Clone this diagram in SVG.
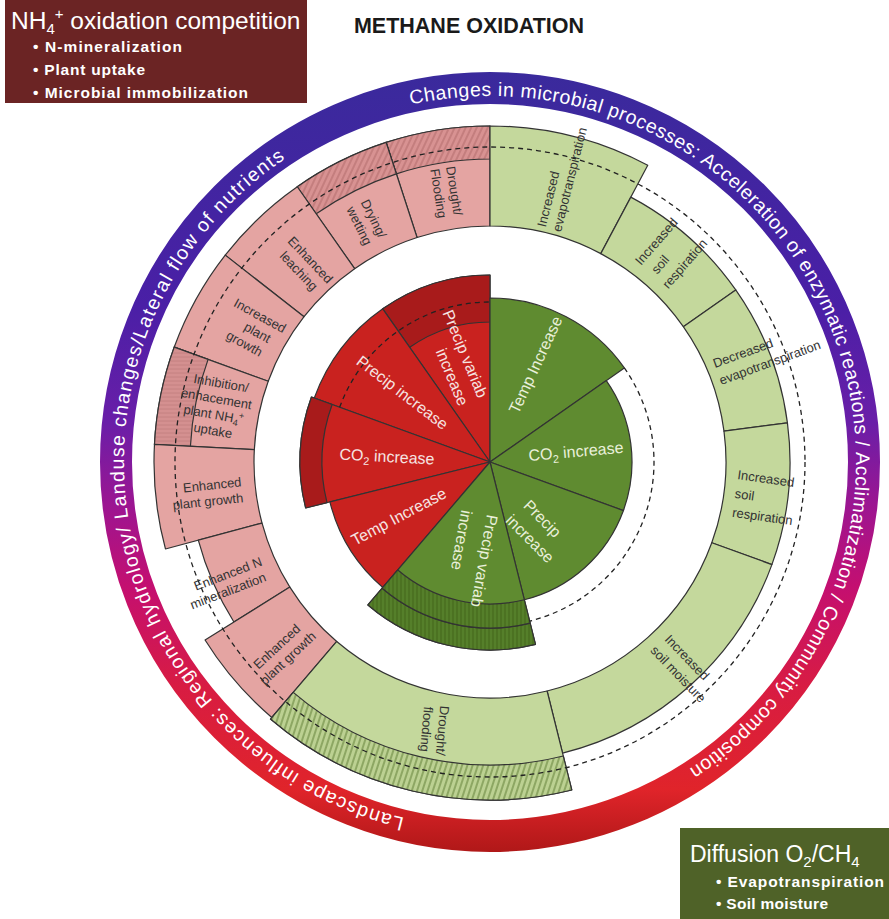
<svg xmlns="http://www.w3.org/2000/svg" width="889" height="919" viewBox="0 0 889 919">
<defs>
<linearGradient id="ringGrad" gradientUnits="userSpaceOnUse" x1="0" y1="72" x2="0" y2="852">
<stop offset="0" stop-color="#3a2a9c"/>
<stop offset="0.3" stop-color="#4a1fa6"/>
<stop offset="0.45" stop-color="#6a1ea8"/>
<stop offset="0.56" stop-color="#9e1590"/>
<stop offset="0.66" stop-color="#c40f70"/>
<stop offset="0.79" stop-color="#d81c42"/>
<stop offset="0.92" stop-color="#e0242a"/>
<stop offset="1" stop-color="#b01818"/>
</linearGradient>
<pattern id="hatchPink" width="5" height="5" patternUnits="userSpaceOnUse" patternTransform="rotate(25)">
<rect width="5" height="5" fill="#d89292"/>
<line x1="1" y1="0" x2="1" y2="5" stroke="#b06a6a" stroke-width="1"/>
</pattern>
<pattern id="hatchPinkH" width="5" height="4" patternUnits="userSpaceOnUse">
<rect width="5" height="4" fill="#d49090"/>
<line x1="0" y1="1" x2="5" y2="1" stroke="#c07c7c" stroke-width="0.8"/>
</pattern>
<pattern id="hatchGreen" width="5" height="5" patternUnits="userSpaceOnUse" patternTransform="rotate(18)">
<rect width="5" height="5" fill="#bcd192"/>
<line x1="1" y1="0" x2="1" y2="5" stroke="#5e7c34" stroke-width="1"/>
</pattern>
<pattern id="hatchOlive" width="4" height="4" patternUnits="userSpaceOnUse">
<rect width="4" height="4" fill="#557f2a"/>
<line x1="1" y1="0" x2="1" y2="4" stroke="#3f6218" stroke-width="0.9"/>
</pattern>
<path id="arcR" d="M410.78,104.67 A366,366 0 0 1 689.34,768.95"/>
<path id="arcL" d="M404.56,817.89 A366,366 0 0 1 285.34,158.57"/>
</defs>
<style>
.sec{stroke:#333;stroke-width:1.2;stroke-linejoin:round}
.pink{fill:#e4a4a2}
.lg{fill:#c4d89c}
.red{fill:#c9221f}
.dred{fill:#a81b1b}
.olive{fill:#5f8b30}
.dash{fill:none;stroke:#222;stroke-width:1.3;stroke-dasharray:5 4}
.lbl{font-family:"Liberation Sans",Arial,sans-serif;font-size:13px;fill:#333}
.pie{font-family:"Liberation Sans",Arial,sans-serif;font-size:16px}
.pr{fill:#f6e4e2}
.pg{fill:#e9f0da}
.ring{font-family:"Liberation Sans",Arial,sans-serif;font-size:19.5px;fill:#fff}
.boxT{font-family:"Liberation Sans",Arial,sans-serif;fill:#fff}
.bul{font-family:"Liberation Sans",Arial,sans-serif;fill:#fff;font-size:15.5px;font-weight:bold}
</style>
<rect width="889" height="919" fill="#fff"/>

<g id="title">
<text x="469" y="33" text-anchor="middle" font-family="Liberation Sans,Arial,sans-serif" font-size="21.5" font-weight="bold" fill="#1a1a1a">METHANE OXIDATION</text>
</g>

<g id="outer-ring">
<circle cx="490" cy="462" r="374" fill="none" stroke="url(#ringGrad)" stroke-width="32"/>
<text class="ring"><textPath href="#arcR" textLength="1019" lengthAdjust="spacing">Changes in microbial processes: Acceleration of enzymatic reactions / Acclimatization / Community composition</textPath></text>
<text class="ring"><textPath href="#arcL" textLength="846" lengthAdjust="spacing">Landscape influences: Regional hydrology/ Landuse changes/Lateral flow of nutrients</textPath></text>
</g>

<g id="pink-ring">
<g id="p-drought-flooding">
<path class="sec pink" d="M417.07,237.55 L386.17,142.44 A336,336 0 0 1 490,126 L490,226 A236,236 0 0 0 417.07,237.55 Z"/>
<path class="sec" fill="url(#hatchPink)" d="M396.37,173.83 L386.17,142.44 A336,336 0 0 1 490,126 L490,159 A303,303 0 0 0 396.37,173.83 Z"/>
</g>
<g id="p-drying-wetting">
<path class="sec pink" d="M354.64,268.68 L297.28,186.77 A336,336 0 0 1 386.17,142.44 L417.07,237.55 A236,236 0 0 0 354.64,268.68 Z"/>
<path class="sec" fill="url(#hatchPink)" d="M316.21,213.80 L297.28,186.77 A336,336 0 0 1 386.17,142.44 L396.37,173.83 A303,303 0 0 0 316.21,213.80 Z"/>
</g>
<g id="p-enhanced-leaching">
<path class="sec pink" d="M304.03,316.70 L225.23,255.14 A336,336 0 0 1 297.28,186.77 L354.64,268.68 A236,236 0 0 0 304.03,316.70 Z"/>
</g>
<g id="p-increased-plant-growth">
<path class="sec pink" d="M268.23,381.28 L174.26,347.08 A336,336 0 0 1 225.23,255.14 L304.03,316.70 A236,236 0 0 0 268.23,381.28 Z"/>
</g>
<g id="p-inhibition">
<path class="sec pink" d="M254.32,449.65 L154.46,444.41 A336,336 0 0 1 174.26,347.08 L268.23,381.28 A236,236 0 0 0 254.32,449.65 Z"/>
<path class="sec" fill="url(#hatchPinkH)" d="M190.41,446.30 L154.46,444.41 A336,336 0 0 1 174.26,347.08 L208.09,359.39 A300,300 0 0 0 190.41,446.30 Z"/>
</g>
<g id="p-enhanced-plant-growth-1">
<path class="sec pink" d="M262.04,523.08 L165.45,548.96 A336,336 0 0 1 154.46,444.41 L254.32,449.65 A236,236 0 0 0 262.04,523.08 Z"/>
</g>
<g id="p-enhanced-n-mineralization">
<path class="sec pink" d="M289.86,587.06 L233.89,622.04 A302,302 0 0 1 198.29,540.16 L262.04,523.08 A236,236 0 0 0 289.86,587.06 Z"/>
</g>
<g id="p-enhanced-plant-growth-2">
<path class="sec pink" d="M336.73,641.46 L271.78,717.50 A336,336 0 0 1 205.06,640.05 L289.86,587.06 A236,236 0 0 0 336.73,641.46 Z"/>
</g>
</g>

<g id="green-ring">
<g id="g-increased-evapotranspiration">
<path class="sec lg" d="M490,226 L490,126 A336,336 0 0 1 647.74,165.33 L600.79,253.62 A236,236 0 0 0 490,226 Z"/>
</g>
<g id="g-increased-soil-respiration-1">
<path class="sec lg" d="M600.79,253.62 L630.84,197.11 A300,300 0 0 1 735.75,289.93 L683.32,326.64 A236,236 0 0 0 600.79,253.62 Z"/>
</g>
<g id="g-decreased-evapotranspiration">
<path class="sec lg" d="M683.32,326.64 L735.75,289.93 A300,300 0 0 1 787.43,422.84 L723.98,431.19 A236,236 0 0 0 683.32,326.64 Z"/>
</g>
<g id="g-increased-soil-respiration-2">
<path class="sec lg" d="M723.98,431.19 L787.43,422.84 A300,300 0 0 1 771.91,564.61 L711.77,542.72 A236,236 0 0 0 723.98,431.19 Z"/>
</g>
<g id="g-increased-soil-moisture">
<path class="sec lg" d="M711.77,542.72 L771.91,564.61 A300,300 0 0 1 562.58,753.09 L547.09,690.99 A236,236 0 0 0 711.77,542.72 Z"/>
</g>
<g id="g-drought-flooding">
<path class="sec lg" d="M547.09,690.99 L571.77,789.96 A338,338 0 0 1 270.49,719.02 L336.73,641.46 A236,236 0 0 0 547.09,690.99 Z"/>
<path class="sec" fill="url(#hatchGreen)" d="M563.30,756.00 L571.77,789.96 A338,338 0 0 1 270.49,719.02 L293.22,692.40 A303,303 0 0 0 563.30,756.00 Z"/>
</g>
</g>

<g id="connectors">
<circle class="dash" cx="490" cy="462" r="315"/>
</g>

<g id="center-pie">
<g id="r-precip-variab">
<path class="sec red" d="M490,462 L382.74,308.82 A187,187 0 0 1 490,275 Z"/>
<path class="sec dred" d="M409.70,347.32 L382.74,308.82 A187,187 0 0 1 490,275 L490,322 A140,140 0 0 0 409.70,347.32 Z"/>
</g>
<g id="r-precip-increase">
<path class="sec red" d="M490,462 L314.28,398.04 A187,187 0 0 1 382.74,308.82 Z"/>
</g>
<g id="r-co2-increase">
<path class="sec red" d="M490,462 L305.64,507.96 A190,190 0 0 1 311.46,397.02 Z"/>
<path class="sec dred" d="M326.99,502.64 L305.64,507.96 A190,190 0 0 1 311.46,397.02 L332.13,404.54 A168,168 0 0 0 326.99,502.64 Z"/>
</g>
<g id="r-temp-increase">
<path class="sec red" d="M490,462 L382.84,587.47 A165,165 0 0 1 329.90,501.92 Z"/>
</g>
<g id="e-temp-increase">
<path class="sec olive" d="M490,462 L490,298 A164,164 0 0 1 624.34,367.93 Z"/>
</g>
<g id="e-co2-increase">
<path class="sec olive" d="M490,462 L606.32,380.55 A142,142 0 0 1 623.44,510.57 Z"/>
</g>
<g id="e-precip-increase">
<path class="sec olive" d="M490,462 L623.44,510.57 A142,142 0 0 1 524.35,599.78 Z"/>
</g>
<g id="e-precip-variab">
<path class="sec olive" d="M490,462 L535.48,644.42 A188,188 0 0 1 367.90,604.96 Z"/>
<path class="sec" fill="url(#hatchOlive)" d="M530.16,623.07 L535.48,644.42 A188,188 0 0 1 367.90,604.96 L382.19,588.23 A166,166 0 0 0 530.16,623.07 Z"/>
<path class="sec" fill="url(#hatchOlive)" d="M524.35,599.78 L530.16,623.07 A166,166 0 0 1 382.19,588.23 L397.78,569.98 A142,142 0 0 0 524.35,599.78 Z"/>
</g>
<path class="dash" d="M339.65,407.28 A160,160 0 0 1 490,302"/>
<path class="dash" d="M624.34,367.93 A164,164 0 0 1 529.67,621.13"/>
</g>

<g id="ring-labels">
<text class="lbl" text-anchor="middle" transform="translate(447,192) rotate(81)"><tspan x="0" y="-3">Drought/</tspan><tspan x="0" y="13">Flooding</tspan></text>
<text class="lbl" text-anchor="middle" transform="translate(367,222) rotate(63.5)"><tspan x="0" y="-3">Drying/</tspan><tspan x="0" y="13">wetting</tspan></text>
<text class="lbl" text-anchor="middle" transform="translate(305,265) rotate(46.5)"><tspan x="0" y="-3">Enhanced</tspan><tspan x="0" y="13">leaching</tspan></text>
<text class="lbl" text-anchor="middle" transform="translate(252,330) rotate(29)"><tspan x="0" y="-12">Increased</tspan><tspan x="6" y="4">plant</tspan><tspan x="0" y="20">growth</tspan></text>
<text class="lbl" text-anchor="middle" transform="translate(215,407) rotate(10)"><tspan x="2" y="-20">Inhibition/</tspan><tspan x="0" y="-4">enhacement</tspan><tspan x="0" y="12">plant NH<tspan font-size="9" dy="3">4</tspan><tspan font-size="9" dy="-8">+</tspan></tspan><tspan x="2" y="28">uptake</tspan></text>
<text class="lbl" text-anchor="middle" transform="translate(207,493) rotate(-6)"><tspan x="6" y="-3">Enhanced</tspan><tspan x="0" y="13">plant growth</tspan></text>
<text class="lbl" text-anchor="middle" transform="translate(225,583) rotate(-21)"><tspan x="6" y="-3">Enhanced N</tspan><tspan x="0" y="13">mineralization</tspan></text>
<text class="lbl" text-anchor="middle" transform="translate(282,652) rotate(-43)"><tspan x="0" y="-3">Enhanced</tspan><tspan x="0" y="13">plant growth</tspan></text>
<text class="lbl" transform="translate(560,187) rotate(-76)"><tspan x="-43" y="-4">Increased</tspan><tspan x="-44" y="12">evapotranspiration</tspan></text>
<text class="lbl" transform="translate(641,266) rotate(-49)"><tspan x="0" y="0">Increased</tspan><tspan x="4" y="18">soil</tspan><tspan x="0" y="36">respiration</tspan></text>
<text class="lbl" transform="translate(715,368) rotate(-20)"><tspan x="0" y="0">Decreased</tspan><tspan x="0" y="18">evapotranspiration</tspan></text>
<text class="lbl" transform="translate(737,479) rotate(8)"><tspan x="0" y="0">Increased</tspan><tspan x="0" y="19">soil</tspan><tspan x="0" y="38">respiration</tspan></text>
<text class="lbl" transform="translate(664,640) rotate(46)"><tspan x="0" y="0">Increased</tspan><tspan x="-2" y="18">soil moisture</tspan></text>
<text class="lbl" text-anchor="middle" transform="translate(435,730) rotate(95)"><tspan x="0" y="-3">Drought/</tspan><tspan x="0" y="13">flooding</tspan></text>
</g>

<g id="pie-labels" class="pie">
<text class="pie pr" text-anchor="end" transform="translate(478,399) rotate(67.5)"><tspan x="0" y="0">Precip variab</tspan><tspan x="0" y="21">increase</tspan></text>
<text class="pie pr" text-anchor="middle" transform="translate(402,393) rotate(37.5)" y="5">Precip increase</text>
<text class="pie pr" text-anchor="middle" transform="translate(387,457) rotate(3)" y="5">CO<tspan font-size="11" dy="4">2</tspan><tspan dy="-4"> increase</tspan></text>
<text class="pie pr" text-anchor="middle" transform="translate(399,517) rotate(-28)" y="5">Temp Increase</text>
<text class="pie pg" text-anchor="middle" transform="translate(536,365) rotate(-65)" y="5">Temp Increase</text>
<text class="pie pg" text-anchor="middle" transform="translate(576,452) rotate(-5)" y="5">CO<tspan font-size="11" dy="4">2</tspan><tspan dy="-4"> increase</tspan></text>
<text class="pie pg" transform="translate(531,498) rotate(45)"><tspan x="0" y="12">Precip</tspan><tspan x="-2" y="35">increase</tspan></text>
<text class="pie pg" transform="translate(487,514) rotate(100)"><tspan x="0" y="0">Precip variab</tspan><tspan x="0" y="26">increase</tspan></text>
</g>

<g id="box-nh4">
<rect x="5" y="0" width="302" height="103" fill="#6b2424"/>
<text class="boxT" x="11" y="29" font-size="24.5">NH<tspan font-size="15" dy="5">4</tspan><tspan font-size="15" dy="-15">+</tspan><tspan dy="10"> oxidation competition</tspan></text>
<text class="bul" x="33" y="52" textLength="149" lengthAdjust="spacing">• N-mineralization</text>
<text class="bul" x="33" y="75" textLength="112" lengthAdjust="spacing">• Plant uptake</text>
<text class="bul" x="33" y="98" textLength="215" lengthAdjust="spacing">• Microbial immobilization</text>
</g>

<g id="box-diffusion">
<rect x="680" y="828" width="209" height="91" fill="#4f6228"/>
<text class="boxT" x="690" y="862" font-size="23">Diffusion O<tspan font-size="15" dy="5">2</tspan><tspan dy="-5">/CH</tspan><tspan font-size="15" dy="5">4</tspan></text>
<text class="bul" x="716" y="887" textLength="168" lengthAdjust="spacing">• Evapotranspiration</text>
<text class="bul" x="716" y="909" textLength="112" lengthAdjust="spacing">• Soil moisture</text>
</g>
</svg>
